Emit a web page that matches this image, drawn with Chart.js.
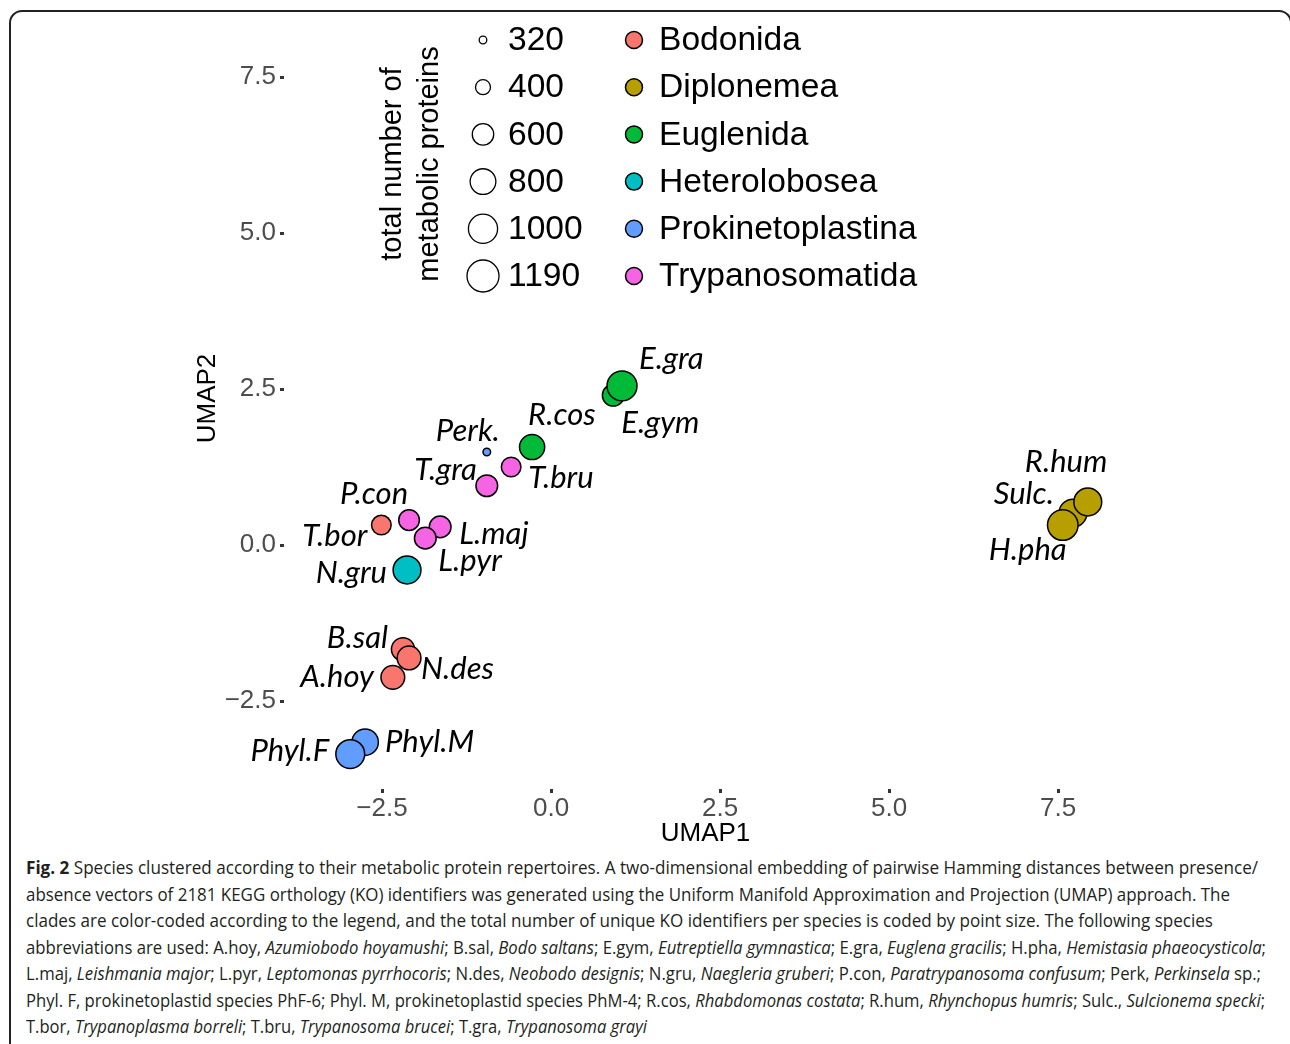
<!DOCTYPE html>
<html>
<head>
<meta charset="utf-8">
<script src="https://cdn.jsdelivr.net/npm/chart.js@4.4.1/dist/chart.umd.min.js"></script>
<style>
  html, body { margin: 0; padding: 0; background: #fff; overflow: hidden; }
  body { width: 1290px; height: 1044px; position: relative; }
  #frame { position: absolute; left: 9px; top: 10px; width: 1283px; height: 1100px;
           border: 2px solid #222; border-radius: 13px; box-sizing: border-box; }
  #wrap { position: absolute; left: 0; top: 0; width: 1290px; height: 850px; }
  #caption { position: absolute; left: 26px; top: 854px; font-family: "Open Sans", sans-serif;
             font-size: 18px; line-height: 26.5px; color: #231f20; white-space: nowrap; }
  #caption div { display: inline-block; transform-origin: 0 50%; }
</style>
</head>
<body>
<div id="frame"></div>
<div id="wrap"><canvas id="umapChart" width="1290" height="850"></canvas></div>
<div id="caption">
  <div><b>Fig. 2</b> Species clustered according to their metabolic protein repertoires. A two-dimensional embedding of pairwise Hamming distances between presence/</div><br>
  <div>absence vectors of 2181 KEGG orthology (KO) identifiers was generated using the Uniform Manifold Approximation and Projection (UMAP) approach. The</div><br>
  <div>clades are color-coded according to the legend, and the total number of unique KO identifiers per species is coded by point size. The following species</div><br>
  <div>abbreviations are used: A.hoy, <i>Azumiobodo hoyamushi</i>; B.sal, <i>Bodo saltans</i>; E.gym, <i>Eutreptiella gymnastica</i>; E.gra, <i>Euglena gracilis</i>; H.pha, <i>Hemistasia phaeocysticola</i>;</div><br>
  <div>L.maj, <i>Leishmania major</i>; L.pyr, <i>Leptomonas pyrrhocoris</i>; N.des, <i>Neobodo designis</i>; N.gru, <i>Naegleria gruberi</i>; P.con, <i>Paratrypanosoma confusum</i>; Perk, <i>Perkinsela</i> sp.;</div><br>
  <div>Phyl. F, prokinetoplastid species PhF-6; Phyl. M, prokinetoplastid species PhM-4; R.cos, <i>Rhabdomonas costata</i>; R.hum, <i>Rhynchopus humris</i>; Sulc., <i>Sulcionema specki</i>;</div><br>
  <div>T.bor, <i>Trypanoplasma borreli</i>; T.bru, <i>Trypanosoma brucei</i>; T.gra, <i>Trypanosoma grayi</i></div>
</div>
<script>
// species, in drawing order (later ones sit on top)
const species  = ['T.bor', 'B.sal', 'A.hoy', 'N.des', 'Sulc.', 'R.hum', 'H.pha', 'R.cos', 'E.gym', 'E.gra',
                  'N.gru', 'Perk.', 'Phyl.M', 'Phyl.F', 'T.bru', 'T.gra', 'P.con', 'L.maj', 'L.pyr'];
const clade    = ['Bodonida', 'Bodonida', 'Bodonida', 'Bodonida', 'Diplonemea', 'Diplonemea', 'Diplonemea',
                  'Euglenida', 'Euglenida', 'Euglenida', 'Heterolobosea', 'Prokinetoplastina', 'Prokinetoplastina',
                  'Prokinetoplastina', 'Trypanosomatida', 'Trypanosomatida', 'Trypanosomatida', 'Trypanosomatida',
                  'Trypanosomatida'];
const umap1    = [-2.51, -2.19, -2.34, -2.10, 7.72, 7.94, 7.57, -0.28, 0.92, 1.05,
                  -2.13, -0.95, -2.75, -2.97, -0.59, -0.95, -2.10, -1.64, -1.86];
const umap2    = [0.32, -1.67, -2.12, -1.81, 0.51, 0.69, 0.32, 1.57, 2.40, 2.55,
                  -0.40, 1.49, -3.16, -3.35, 1.25, 0.95, 0.40, 0.29, 0.11];
const proteins = [530, 670, 700, 700, 920, 920, 1090, 770, 610, 1050,
                  920, 320, 840, 980, 530, 610, 570, 610, 610];

const clades = ['Bodonida', 'Diplonemea', 'Euglenida', 'Heterolobosea', 'Prokinetoplastina', 'Trypanosomatida'];
const cladeColors = ['#F8766D', '#B79F00', '#00BA38', '#00BFC4', '#619CFF', '#F564E3'];
const sizeBreaks = [320, 400, 600, 800, 1000, 1190];
const xTicks = [-2.5, 0, 2.5, 5, 7.5];
const yTicks = [-2.5, 0, 2.5, 5, 7.5];

// label placement relative to the point: [dx, dy, align]
const labelPos = {
  'E.gra': [17, -27, 'left'], 'E.gym': [8, 28, 'left'], 'R.cos': [-4, -32, 'left'],
  'Perk.': [-51, -21, 'left'], 'T.gra': [-10, -16, 'right'], 'T.bru': [17, 11, 'left'],
  'P.con': [-35, -26, 'center'], 'T.bor': [-14, 11, 'right'], 'L.maj': [19, 7, 'left'],
  'L.pyr': [13, 23, 'left'], 'N.gru': [-20, 3, 'right'], 'B.sal': [-15, -11, 'right'],
  'N.des': [12, 11, 'left'], 'A.hoy': [-19, 0, 'right'], 'Phyl.M': [20, 0, 'left'],
  'Phyl.F': [-21, -3, 'right'], 'R.hum': [-63, -40, 'left'], 'Sulc.': [-19, -19, 'right'],
  'H.pha': [-74, 25, 'left']
};

// caption line widths in the figure
const captionWidths = [1232, 1204, 1187, 1240, 1235, 1239, 621];

const sansFont = '"Liberation Sans", Arial, sans-serif';

// area-type size scale, like ggplot's scale_size
function sizeOf(v) {
  let f = (v - sizeBreaks[0]) / (sizeBreaks[sizeBreaks.length - 1] - sizeBreaks[0]);
  return 3.8 + 12.2 * Math.sqrt(Math.max(0, f));
}

function fmt(v) {
  return (v < 0 ? '\u2212' : '') + Math.abs(v).toFixed(1);
}

let datasets = clades.map((c, ci) => {
  let idx = [];
  species.forEach((s, i) => { if (clade[i] === c) idx.push(i); });
  return {
    label: c,
    data: idx.map(i => ({ x: umap1[i], y: umap2[i], name: species[i], n: proteins[i] })),
    backgroundColor: cladeColors[ci],
    borderColor: '#000',
    borderWidth: 1.5,
    pointRadius: ctx => sizeOf(ctx.raw.n),
    pointHoverRadius: ctx => sizeOf(ctx.raw.n)
  };
});

const decorations = {
  id: 'decorations',
  afterDatasetsDraw(chart) {
    let ctx = chart.ctx;
    ctx.save();

    // point labels
    ctx.fillStyle = '#000';
    ctx.font = 'italic 31px Lato, sans-serif';
    ctx.textBaseline = 'middle';
    chart.data.datasets.forEach((ds, di) => {
      chart.getDatasetMeta(di).data.forEach((pt, i) => {
        let name = ds.data[i].name;
        let p = labelPos[name];
        ctx.textAlign = p[2];
        ctx.fillText(name, pt.x + p[0], pt.y + p[1]);
      });
    });

    // size legend
    ctx.font = '29px ' + sansFont;
    ctx.textAlign = 'center';
    ctx.save();
    ctx.translate(393, 164);
    ctx.rotate(-Math.PI / 2);
    ctx.fillText('total number of', 0, 0);
    ctx.restore();
    ctx.save();
    ctx.translate(430, 164);
    ctx.rotate(-Math.PI / 2);
    ctx.fillText('metabolic proteins', 0, 0);
    ctx.restore();

    ctx.font = '33.6px ' + sansFont;
    ctx.textAlign = 'left';
    sizeBreaks.forEach((b, i) => {
      let y = 40 + i * 47.2;
      ctx.beginPath();
      ctx.arc(483, y, sizeOf(b), 0, Math.PI * 2);
      ctx.lineWidth = 1.3;
      ctx.strokeStyle = '#000';
      ctx.stroke();
      ctx.fillText(String(b), 508, y + 1);
    });

    // clade legend
    clades.forEach((c, i) => {
      let y = 40 + i * 47.2;
      ctx.beginPath();
      ctx.arc(634, y, 8.5, 0, Math.PI * 2);
      ctx.fillStyle = cladeColors[i];
      ctx.fill();
      ctx.lineWidth = 1.5;
      ctx.strokeStyle = '#000';
      ctx.stroke();
      ctx.fillStyle = '#000';
      ctx.fillText(c, 659, y + 1);
    });
    ctx.restore();
  }
};

let umapChart = new Chart(document.getElementById('umapChart').getContext('2d'), {
  type: 'scatter',
  data: { datasets: datasets },
  options: {
    responsive: false,
    animation: false,
    layout: { autoPadding: false, padding: { top: 8, right: 163, left: 0, bottom: 0 } },
    plugins: { legend: { display: false }, tooltip: { enabled: false } },
    scales: {
      x: {
        type: 'linear',
        min: -3.95, max: 8.52,
        afterBuildTicks: s => { s.ticks = xTicks.map(v => ({ value: v })); },
        afterFit: s => { s.height = 61; s.paddingLeft = 0; s.paddingRight = 0; },
        grid: { drawOnChartArea: false, drawTicks: true, tickLength: 4, tickWidth: 3, tickColor: '#333' },
        border: { display: false },
        ticks: { font: { family: sansFont, size: 26 }, color: '#4d4d4d', padding: 0,
                  maxRotation: 0, autoSkip: false, callback: v => fmt(v) },
        title: { display: true, text: 'UMAP1', font: { family: sansFont, size: 26 }, color: '#000',
                 padding: { top: 0, bottom: 0.5 } }
      },
      y: {
        type: 'linear',
        min: -3.91, max: 8.606,
        afterBuildTicks: s => { s.ticks = yTicks.map(v => ({ value: v })); },
        afterFit: s => { s.width = 284; s.paddingTop = 0; s.paddingBottom = 0; },
        grid: { drawOnChartArea: false, drawTicks: true, tickLength: 4, tickWidth: 3, tickColor: '#333' },
        border: { display: false },
        ticks: { font: { family: sansFont, size: 26 }, color: '#4d4d4d', padding: 4,
                  autoSkip: false, callback: v => fmt(v) },
        title: { display: true, text: 'UMAP2', font: { family: sansFont, size: 26 }, color: '#000',
                 padding: { top: 192, bottom: 0 } }
      }
    }
  },
  plugins: [decorations]
});

// squeeze each caption line to the width it has in the figure
document.querySelectorAll('#caption div').forEach((line, i) => {
  let w = line.getBoundingClientRect().width;
  line.style.transform = 'scaleX(' + (captionWidths[i] / w) + ')';
});
</script>
</body>
</html>
